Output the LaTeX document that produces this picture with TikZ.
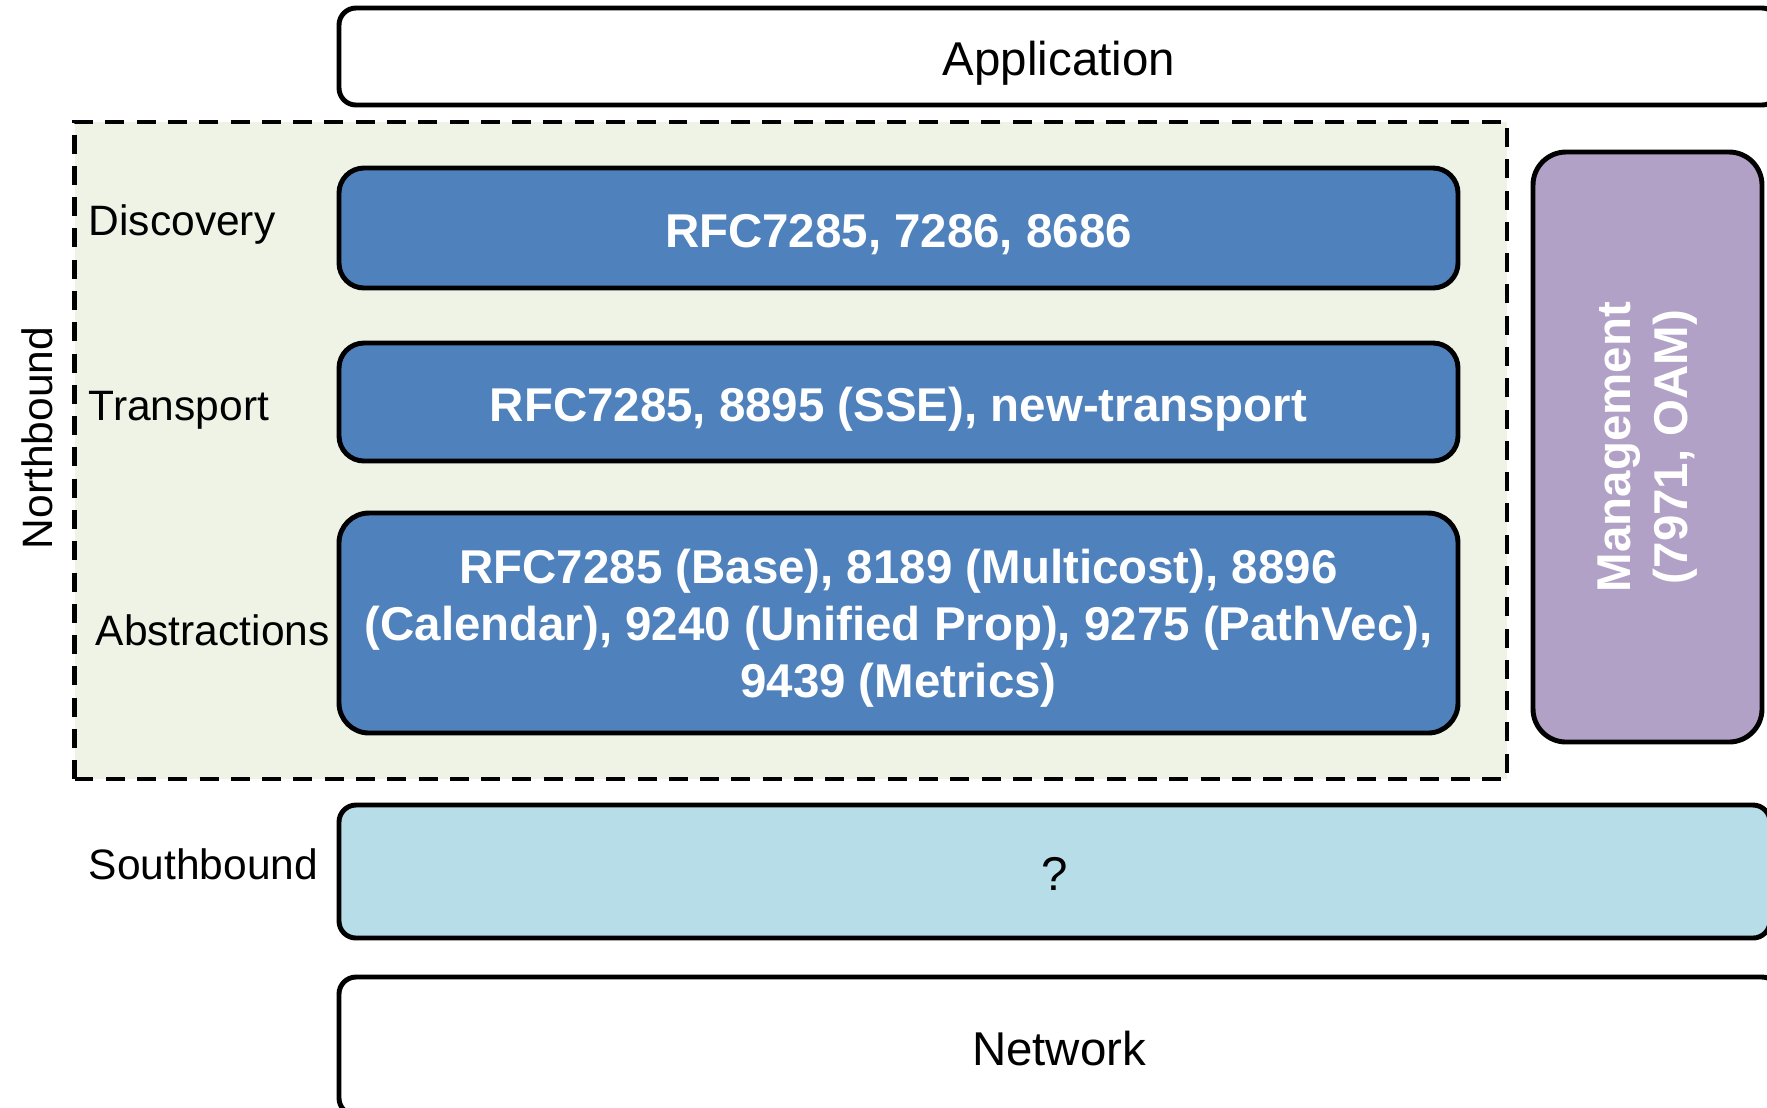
\documentclass[tikz,border=0pt]{standalone}
\usepackage{fontspec}
\setmainfont{Liberation Sans}
\usepackage{xcolor}
\usepackage{tikz}
\usetikzlibrary{positioning}
\definecolor{rfcblue}{HTML}{4F81BD}
\definecolor{mgmtpurple}{HTML}{B2A1C7}
\definecolor{southcyan}{HTML}{B7DDE8}
\definecolor{nbgreen}{HTML}{EFF3E5}

\begin{document}
\begin{tikzpicture}[font=\fontsize{13.5}{16.2}\selectfont,
    layer/.style={draw=black, line width=1.4pt, rounded corners=0.17cm,
                  fill=white, inner sep=0pt},
    oneline/.style={text height=0.38cm, text depth=0pt},
    rfc/.style={layer, fill=rfcblue, rounded corners=0.25cm, text=white,
                font=\fontsize{13.5}{16.2}\selectfont\bfseries, align=center},
    side/.style={anchor=west, inner sep=0pt, font=\fontsize{12.1}{14}\selectfont}]
  \useasboundingbox (0,0) rectangle (17.67,-11.07);
  \clip (0,0) rectangle (17.67,-11.07);
  % northbound frame
  \node[draw=black, line width=1.3pt, dash pattern=on 5.4pt off 3.5pt,
        fill=nbgreen, minimum width=14.325cm, minimum height=6.57cm]
        (nb) at (7.9075,-4.505) {};
  \node[side, anchor=center, rotate=90] (nblab) at (0.37,-4.38) {Northbound};

  \node[layer, oneline, minimum width=14.40cm, minimum height=0.97cm] (app)
        at (10.59,-0.565) {Application};

  \node[rfc, oneline, minimum width=11.19cm, minimum height=1.20cm] (disc)
        at (8.985,-2.28) {RFC7285, 7286, 8686};
  \node[rfc, oneline, minimum width=11.19cm, minimum height=1.18cm] (trans)
        at (8.985,-4.02) {RFC7285, 8895 (SSE), new-transport};
  \node[rfc, minimum width=11.19cm, minimum height=2.20cm, rounded corners=0.30cm,
        text height=44.9pt, text depth=2.8pt] (abst) at (8.985,-6.23)
        {RFC7285 (Base), 8189 (Multicost), 8896\\
         (Calendar), 9240 (Unified Prop), 9275 (PathVec),\\
         9439 (Metrics)};

  \node[side] (disclab)  at (0.88,-2.245) {Discovery};
  \node[side] (translab) at (0.88,-4.105) {Transport};
  \node[side] (abstlab)  at (0.95,-6.30) {Abstractions};

  \node[rfc, fill=mgmtpurple, rounded corners=0.33cm, rotate=90,
        minimum width=5.90cm, minimum height=2.29cm] (mgmt)
        at (16.475,-4.47) {Management\\(7971, OAM)};

  \node[layer, oneline, fill=southcyan, minimum width=14.31cm,
        minimum height=1.33cm] (south) at (10.545,-8.715) {?};
  \node[side] (southlab) at (0.88,-8.64) {Southbound};

  \node[layer, oneline, minimum width=14.40cm, minimum height=1.38cm] (net)
        at (10.59,-10.46) {Network};
\end{tikzpicture}
\end{document}
